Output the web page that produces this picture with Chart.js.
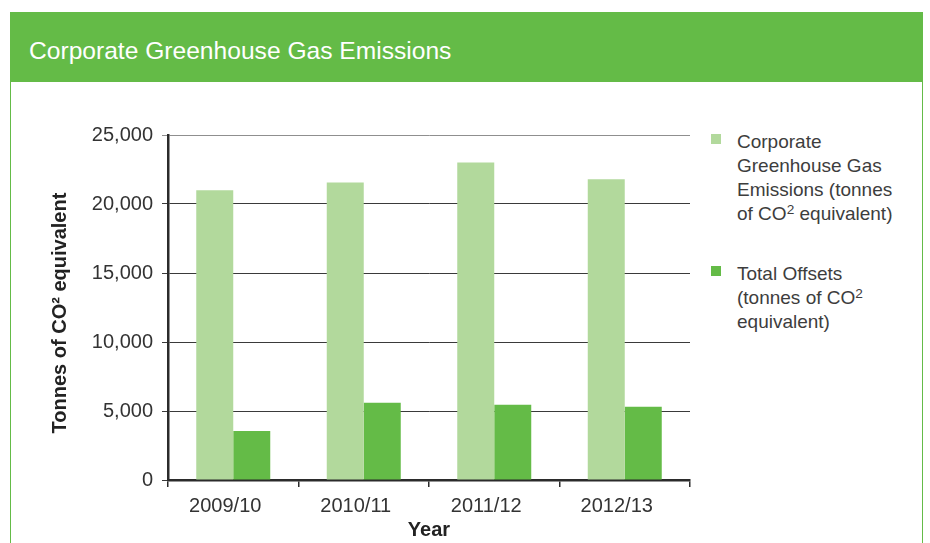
<!DOCTYPE html>
<html>
<head>
<meta charset="utf-8">
<script src="https://cdn.jsdelivr.net/npm/chart.js@4.4.1/dist/chart.umd.min.js"></script>
<style>
  html, body { margin: 0; padding: 0; background: #fff; }
  body { width: 930px; height: 543px; position: relative; overflow: hidden;
         font-family: "Liberation Sans", Arial, Helvetica, sans-serif; }
  #frame { position: absolute; left: 10px; top: 12px; width: 913px; height: 560px;
           border-left: 1px solid #64bb47; border-right: 1px solid #64bb47; box-sizing: border-box; }
  #header { position: absolute; left: 10px; top: 12px; width: 913px; height: 70px; background: #64bb47; }
  #header span { position: absolute; left: 19px; top: 26px; font-size: 24.6px; line-height: 25px; color: #fff; }
  #wrap { position: absolute; left: 0; top: 90px; width: 700px; height: 453px; }
  .leg { position: absolute; left: 711px; font-size: 19px; line-height: 24px; color: #3d3d3d; }
  .leg i { position: absolute; left: 0; top: 4px; width: 10px; height: 10px; }
  .leg div { margin-left: 26px; width: 162px; }
  .leg sup { font-size: 0.72em; line-height: 0; vertical-align: 0.42em; }
</style>
</head>
<body>
<div id="frame"></div>
<div id="header"><span>Corporate Greenhouse Gas Emissions</span></div>
<div id="wrap"><canvas id="chart"></canvas></div>
<div id="legend"></div>
<script>
// values
const years = ['2009/10', '2010/11', '2011/12', '2012/13'];
const emissions = [21000, 21550, 23000, 21800];
const offsets = [3550, 5600, 5450, 5300];
const seriesNames = [
    'Corporate Greenhouse Gas Emissions (tonnes of CO<sup>2</sup> equivalent)',
    'Total Offsets (tonnes of CO<sup>2</sup> equivalent)'
];
const seriesColors = ['#b2d99c', '#64bb47'];
const legendTops = [130, 262];

const axisColor = '#2b2b2b';
const tickFont = { family: '"Liberation Sans", Arial, sans-serif', size: 20 };
const titleFont = { family: '"Liberation Sans", Arial, sans-serif', size: 20, weight: 'bold' };

var legend = document.getElementById('legend');
for (var i = 0; i < seriesNames.length; ++i) {
    var item = document.createElement('div');
    item.className = 'leg';
    item.style.top = legendTops[i] + 'px';
    item.innerHTML = '<i style="background:' + seriesColors[i] + '"></i><div>' + seriesNames[i] + '</div>';
    legend.appendChild(item);
}

new Chart(document.getElementById('chart'), {
    type: 'bar',
    data: {
        labels: years,
        datasets: [{
            label: seriesNames[0].replace(/<\/?sup>/g, ''),
            data: emissions,
            backgroundColor: seriesColors[0],
            categoryPercentage: 0.567,
            barPercentage: 1.0
        }, {
            label: seriesNames[1].replace(/<\/?sup>/g, ''),
            data: offsets,
            backgroundColor: seriesColors[1],
            categoryPercentage: 0.567,
            barPercentage: 1.0
        }]
    },
    options: {
        responsive: true,
        maintainAspectRatio: false,
        animation: false,
        layout: { padding: { top: 45, right: 10, left: 0, bottom: 0 } },
        plugins: {
            legend: { display: false },
            tooltip: { enabled: false }
        },
        scales: {
            x: {
                grid: { drawOnChartArea: false, tickLength: 7, color: axisColor, lineWidth: 1.5 },
                border: { color: axisColor, width: 2.5 },
                ticks: { font: tickFont, color: '#333', padding: 7, labelOffset: -8 },
                title: { display: true, text: 'Year', font: titleFont, color: '#222', padding: { top: 0, bottom: 1 } },
                afterFit: function (scale) { scale.height = 63; }
            },
            y: {
                min: 0,
                max: 25000,
                grid: {
                    tickLength: 6,
                    lineWidth: 1,
                    color: function (ctx) { return ctx.tick && ctx.tick.value === 25000 ? '#8f8f8f' : '#3a3a3a'; }
                },
                border: { color: axisColor, width: 2.5 },
                ticks: {
                    stepSize: 5000,
                    font: tickFont,
                    color: '#333',
                    padding: 9,
                    callback: function (v) { return v.toLocaleString('en-US'); }
                },
                title: { display: true, text: 'Tonnes of CO² equivalent  ', font: titleFont, color: '#222', padding: { top: 48, bottom: 0 } },
                afterFit: function (scale) { scale.width = 168; }
            }
        }
    }
});
</script>
</body>
</html>
